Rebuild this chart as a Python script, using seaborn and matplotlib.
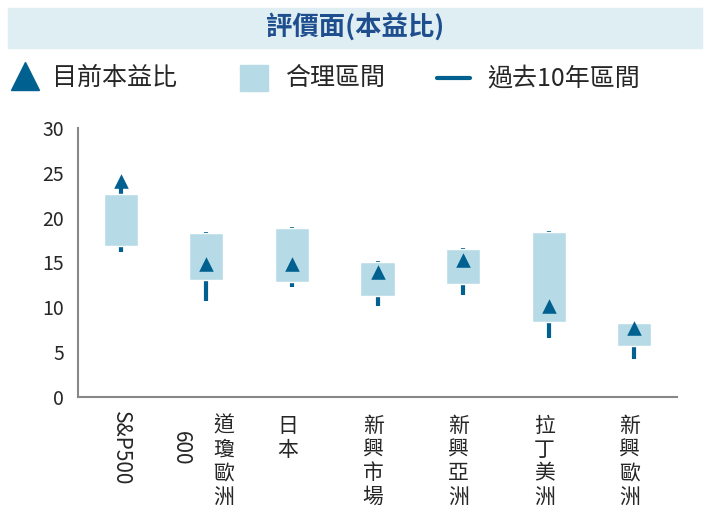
import numpy as np
import pandas as pd
import seaborn as sns
import matplotlib.pyplot as plt
from matplotlib.lines import Line2D

# chart data
markets = ['S&P500', '道瓊歐洲600', '日本', '新興市場', '新興亞洲', '拉丁美洲', '新興歐洲']
current_pe = [24.1, 14.8, 14.8, 13.9, 15.3, 10.2, 7.7]
fair_low = [16.8, 13.1, 12.8, 11.3, 12.6, 8.4, 5.7]
fair_high = [22.6, 18.3, 18.9, 15.1, 16.5, 18.4, 8.2]
range_low = [16.2, 10.7, 12.3, 10.2, 11.4, 6.6, 4.2]
range_high = [23.4, 18.4, 19.0, 15.2, 16.6, 18.5, 8.3]
legend_labels = ['目前本益比', '合理區間', '過去10年區間']

dark_blue = '#00608f'
light_blue = '#b7dbe6'

sns.set_style('white')
plt.rcParams['font.family'] = ['Noto Sans CJK TC', 'DejaVu Sans']

df = pd.DataFrame({'market': markets, 'current': current_pe,
                   'fair_low': fair_low, 'fair_high': fair_high,
                   'range_low': range_low, 'range_high': range_high})
pos = np.arange(len(df))

fig = plt.figure(figsize=(7.1, 5.25), dpi=100)
ax = fig.add_axes([78 / 710, 128 / 525, 599 / 710, 269 / 525])

# past 10y range lines, then fair-value boxes, then current triangles
ax.vlines(pos, df['range_low'], df['range_high'], color=dark_blue, lw=3, zorder=1)
ax.bar(pos, df['fair_high'] - df['fair_low'], bottom=df['fair_low'],
       width=0.4, color=light_blue, zorder=2)
sns.scatterplot(x=pos, y=df['current'], marker='^', s=110, color=dark_blue,
                edgecolor=dark_blue, linewidth=0, zorder=3, ax=ax, legend=False)

ax.set_xlim(-0.5, len(df) - 0.5)
ax.set_ylim(0, 30)
ax.set_yticks(range(0, 31, 5))
ax.set_xticks(np.arange(-0.5, len(df), 1))
ax.set_xticklabels([])
ax.set_xlabel('')
ax.set_ylabel('')
ax.tick_params(axis='y', labelsize=14, length=5, width=1.2, color='#888888', pad=5)
ax.tick_params(axis='x', length=6, width=1.2, color='#888888')
for s in ['top', 'right']:
    ax.spines[s].set_visible(False)
for s in ['left', 'bottom']:
    ax.spines[s].set_color('#888888')
    ax.spines[s].set_linewidth(1.5)

# vertical category labels
for i, name in enumerate(markets):
    if name == 'S&P500':
        ax.text(i, -1.6, name, rotation=270, ha='center', va='top', fontsize=15)
    elif name == '道瓊歐洲600':
        ax.text(i + 0.2, -2.0, '\n'.join(name[:4]), ha='center', va='top',
                fontsize=15, linespacing=1.1)
        ax.text(i - 0.3, -3.8, name[4:], rotation=270, ha='center', va='top',
                fontsize=15)
    else:
        ax.text(i - 0.05, -2.0, '\n'.join(name), ha='center', va='top',
                fontsize=15, linespacing=1.1)

# title banner
fig.patches.append(plt.Rectangle((8 / 710, 1 - 48 / 525), 694 / 710, 40 / 525,
                                 transform=fig.transFigure, color='#dfeef3', zorder=0))
fig.text(0.5, 1 - 28 / 525, '評價面(本益比)', ha='center', va='center',
         fontsize=19, fontweight='bold', color='#1f4e8f')

# legend row
ly = 1 - 78 / 525
fig.add_artist(Line2D([25 / 710], [ly + 0.003], transform=fig.transFigure, marker='^',
                      ls='', color=dark_blue, markersize=20))
fig.patches.append(plt.Rectangle((240 / 710, 1 - 91 / 525), 28 / 710, 26 / 525,
                                 transform=fig.transFigure, color=light_blue))
fig.add_artist(Line2D([437 / 710, 470 / 710], [ly, ly], transform=fig.transFigure,
                      color=dark_blue, lw=3))
for x0, lab in zip([52, 285, 487], legend_labels):
    fig.text(x0 / 710, ly, lab, ha='left', va='center', fontsize=18)

fig.savefig('out.png', dpi=100)
